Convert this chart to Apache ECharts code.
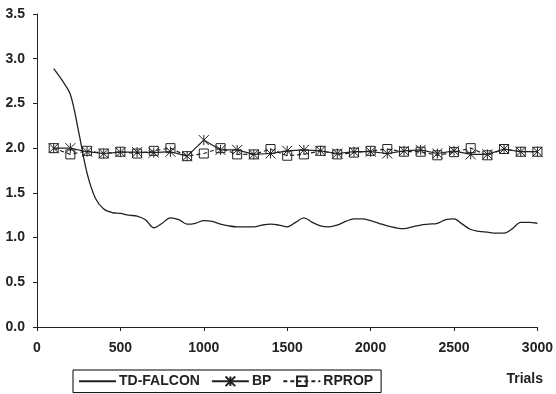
<!DOCTYPE html>
<html>
<head>
<meta charset="utf-8">
<script src="https://cdn.jsdelivr.net/npm/echarts@6/dist/echarts.min.js"></script>
<style>html,body{margin:0;padding:0;background:#fff;}#c{width:556px;height:394px;}</style>
</head>
<body>
<div id="c"></div>
<script>
// Data
var trialsFine = [100,150,200,250,300,350,400,450,500,550,600,650,700,750,800,850,900,950,1000,1050,1100,1150,1200,1250,1300,1350,1400,1450,1500,1550,1600,1650,1700,1750,1800,1850,1900,1950,2000,2050,2100,2150,2200,2250,2300,2350,2400,2450,2500,2550,2600,2650,2700,2750,2800,2850,2900,2950,3000];
var tdFalcon = [2.89,2.76,2.60,2.18,1.72,1.44,1.32,1.28,1.27,1.25,1.24,1.20,1.11,1.16,1.22,1.20,1.15,1.16,1.19,1.18,1.15,1.13,1.12,1.12,1.12,1.14,1.15,1.14,1.12,1.17,1.22,1.17,1.13,1.12,1.14,1.18,1.21,1.21,1.19,1.16,1.13,1.11,1.10,1.12,1.14,1.15,1.16,1.20,1.21,1.15,1.09,1.07,1.06,1.05,1.05,1.10,1.17,1.17,1.16];
var trials = [100,200,300,400,500,600,700,800,900,1000,1100,1200,1300,1400,1500,1600,1700,1800,1900,2000,2100,2200,2300,2400,2500,2600,2700,2800,2900,3000];
var bp = [2.00,2.00,1.96,1.94,1.955,1.955,1.95,1.96,1.91,2.09,1.98,1.98,1.93,1.94,1.97,1.98,1.97,1.94,1.96,1.96,1.94,1.97,1.98,1.94,1.97,1.93,1.93,1.99,1.96,1.96];
var rprop = [2.00,1.93,1.97,1.94,1.96,1.94,1.97,2.00,1.91,1.94,2.00,1.93,1.93,1.99,1.915,1.93,1.97,1.93,1.95,1.97,1.99,1.96,1.96,1.92,1.955,2.00,1.92,1.99,1.96,1.96];
var xTicks = [0,500,1000,1500,2000,2500,3000];
var yTicks = [0.0,0.5,1.0,1.5,2.0,2.5,3.0,3.5];

function pairs(xs, ys){ return xs.map(function(x,i){ return [x, ys[i]]; }); }

var FONT = 'Liberation Sans, Arial, sans-serif';
var INK = '#222';
var chart = echarts.init(document.getElementById('c'));
chart.setOption({
  animation: false,
  backgroundColor: '#fff',
  grid: {left: 37, right: 13, top: 14, bottom: 67, containLabel: false},
  xAxis: {
    type: 'value', min: xTicks[0], max: xTicks[xTicks.length-1], interval: 500,
    axisLine: {show: true, lineStyle: {color: INK, width: 1}},
    axisTick: {show: true, inside: false, length: 4, lineStyle: {color: INK}},
    axisLabel: {margin: 14, fontFamily: FONT, fontWeight: 'bold', fontSize: 14, color: INK,
      formatter: function(v){ return String(v); }},
    splitLine: {show: false}
  },
  yAxis: {
    type: 'value', min: yTicks[0], max: yTicks[yTicks.length-1], interval: 0.5,
    axisLine: {show: true, lineStyle: {color: INK, width: 1}},
    axisTick: {show: true, inside: false, length: 4, lineStyle: {color: INK}},
    axisLabel: {margin: 12, fontFamily: FONT, fontWeight: 'bold', fontSize: 14, color: INK,
      formatter: function(v){ return v.toFixed(1); }},
    splitLine: {show: false}
  },
  legend: {
    left: 73, top: 370, orient: 'horizontal',
    padding: [4, 8, 4, 5], itemGap: 11, itemWidth: 37, itemHeight: 12,
    borderColor: '#000', borderWidth: 1, borderRadius: 0,
    textStyle: {fontFamily: FONT, fontWeight: 'bold', fontSize: 14, color: INK, padding: [0,0,0,-2]},
    data: [
      {name: 'TD-FALCON', itemStyle: {opacity: 0}},
      'BP',
      'RPROP'
    ]
  },
  graphic: [{
    type: 'text', right: 13, top: 372,
    style: {text: 'Trials', font: 'bold 14px ' + FONT, fill: INK}
  }],
  series: [
    {
      name: 'TD-FALCON', type: 'line', data: pairs(trialsFine, tdFalcon),
      smooth: 0.35, symbol: 'none', showSymbol: false,
      lineStyle: {color: INK, width: 1.3}, itemStyle: {color: INK}, z: 2
    },
    {
      name: 'BP', type: 'line', data: pairs(trials, bp),
      symbol: 'path://M0,0L10,10M10,0L0,10M5,0L5,10', symbolSize: 10,
      lineStyle: {color: INK, width: 1.2},
      itemStyle: {color: 'none', borderColor: INK, borderWidth: 1}, z: 3
    },
    {
      name: 'RPROP', type: 'line', data: pairs(trials, rprop),
      symbol: 'rect', symbolSize: 9,
      lineStyle: {color: INK, width: 1.2, type: [4, 3]},
      itemStyle: {color: 'rgba(255,255,255,0)', borderColor: INK, borderWidth: 1}, z: 4
    }
  ]
});
</script>
</body>
</html>
